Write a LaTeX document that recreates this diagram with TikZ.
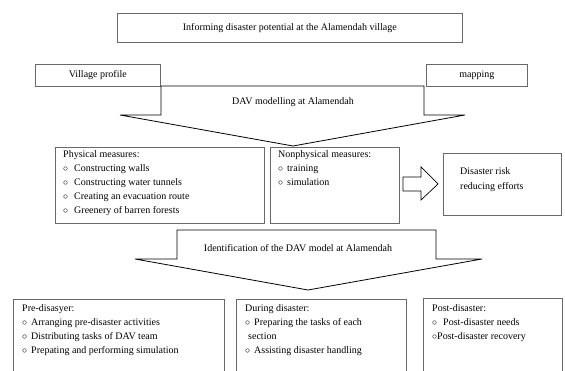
\documentclass[tikz,border=0pt]{standalone}
\usepackage{fontspec}
\setmainfont{Liberation Serif}
\definecolor{boxgray}{RGB}{105,105,105}
\newcommand{\mybul}[1][11pt]{\makebox[#1][l]{$\circ$}}
\begin{document}
\begin{tikzpicture}[x=1pt,y=-1pt,
  box/.style={draw=boxgray, line width=0.6pt, inner sep=0pt, anchor=north west,
    font=\fontsize{10}{14}\selectfont},
  txt/.style={font=\fontsize{10}{14}\selectfont, align=left, inner sep=0pt, anchor=north west},
  barrow/.style={draw=black, line width=0.8pt, fill=white, line join=miter}]
\useasboundingbox (0,0) rectangle (565,371);
\clip (0,0) rectangle (565,371);

% top box and side boxes
\node[box, minimum width=345pt, minimum height=29pt] (inform) at (117,13)
  {Informing disaster potential at the Alamendah village};
\node[box, minimum width=125pt, minimum height=22pt] (profile) at (35,64) {Village profile};
\node[box, minimum width=101pt, minimum height=22pt] (mapping) at (426,64) {mapping};

% first block arrow
\draw[barrow] (161,86) -- (424,86) -- (424,115) -- (465,115) -- (293,146)
  -- (120,115) -- (161,115) -- cycle;
\node[txt, anchor=center] (dav) at (293,102) {DAV modelling at Alamendah};

% measures
\node[box, minimum width=209pt, minimum height=76pt] (phys) at (55,147) {};
\node[txt] (physT) at (63,150) {Physical measures:\\
  \mybul Constructing walls\\
  \mybul Constructing water tunnels\\
  \mybul Creating an evacuation route\\
  \mybul Greenery of barren forests};
\node[box, minimum width=129pt, minimum height=76pt] (nonphys) at (270,147) {};
\node[txt] (nonphysT) at (278,150) {Nonphysical measures:\\
  \mybul[9pt]training\\
  \mybul[9pt]simulation};

% right block arrow
\draw[barrow, line width=0.7pt] (403,177) -- (421,177) -- (421,167) -- (438,184)
  -- (421,200) -- (421,191) -- (403,191) -- cycle;
\node[box, minimum width=118pt, minimum height=62pt] (risk) at (443,153) {};
\node[txt, font=\fontsize{10}{15}\selectfont] (riskT) at (460,167) {Disaster risk\\reducing efforts};

% second block arrow
\draw[barrow] (177,230) -- (436,230) -- (436,259) -- (482,259) -- (308,290)
  -- (135,259) -- (177,259) -- cycle;
\node[txt, anchor=center] (ident) at (298,248) {Identification of the DAV model at Alamendah};

% bottom boxes
\node[box, minimum width=211pt, minimum height=100pt] (pre) at (13,299) {};
\node[txt] (preT) at (22,304) {Pre-disasyer:\\
  \mybul[9pt]Arranging pre-disaster activities\\
  \mybul[9pt]Distributing tasks of DAV team\\
  \mybul[9pt]Prepating and performing simulation};
\node[box, minimum width=170pt, minimum height=100pt] (during) at (236,299) {};
\node[txt] (duringT) at (245,304) {During disaster:\\
  \mybul[9pt]Preparing the tasks of each\\
  \hspace*{3pt}section\\
  \mybul[9pt]Assisting disaster handling};
\node[box, minimum width=139pt, minimum height=100pt] (post) at (423,298) {};
\node[txt] (postT) at (432,304) {Post-disaster:\\
  \mybul[11pt]Post-disaster needs\\
  \mybul[5pt]Post-disaster recovery};
\end{tikzpicture}
\end{document}
